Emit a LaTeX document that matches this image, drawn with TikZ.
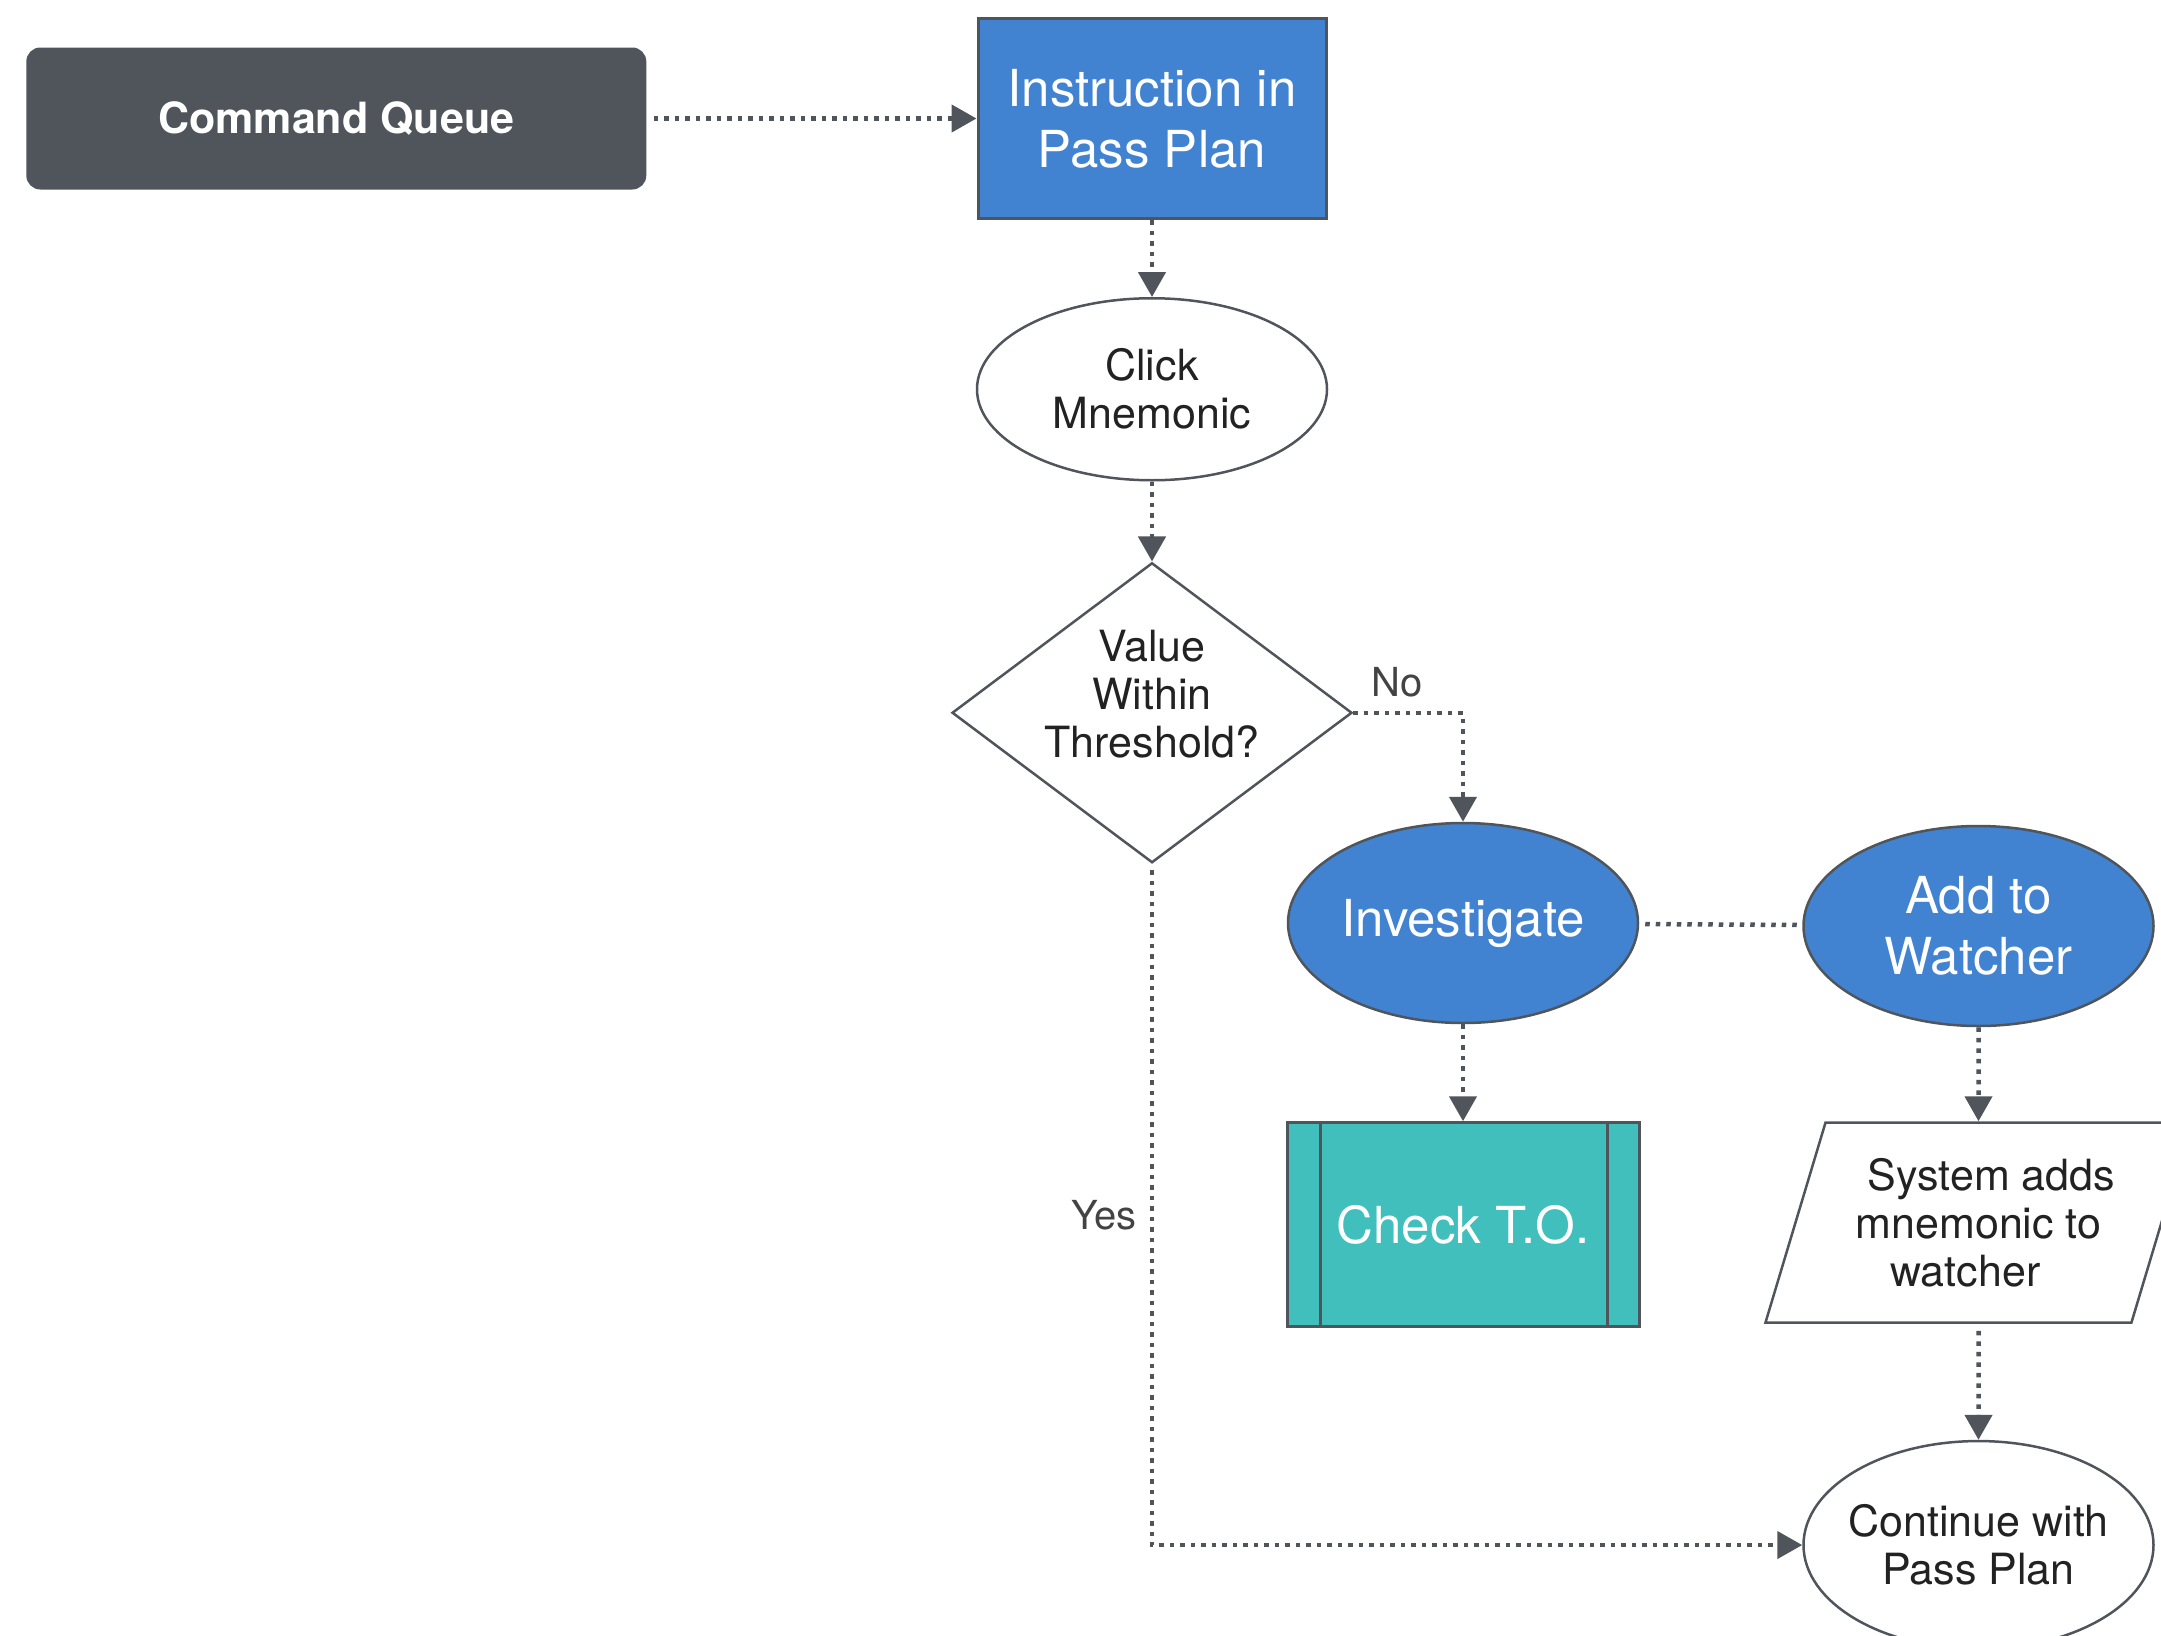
\documentclass[tikz,border=0pt]{standalone}
\usepackage{fontspec}
\setmainfont{TeX Gyre Heros}
\usetikzlibrary{positioning, shapes.geometric, arrows.meta}
\definecolor{slate}{RGB}{80,85,92}
\definecolor{boxblue}{RGB}{65,131,208}
\definecolor{boxteal}{RGB}{64,191,189}
\definecolor{inkgray}{RGB}{34,34,34}
\tikzset{block/.style={draw=slate, line width=3pt, minimum width=348pt, minimum height=200pt, align=center, inner sep=0pt},
bluefill/.style={fill=boxblue, text=white, font=\fontsize{51}{61}\selectfont},
term/.style={ellipse, draw=slate, line width=2.5pt, minimum width=350pt, minimum height=200pt, align=center, inner sep=0pt, text=inkgray, font=\fontsize{43}{48}\selectfont},
line/.style={draw=slate, line width=4.5pt, dash pattern=on 4.5pt off 6pt, -{Triangle[length=25pt,width=27pt]}},
lbl/.style={text=inkgray!85, font=\fontsize{40}{46}\selectfont}
}

\begin{document}
\begin{tikzpicture}[x=1pt, y=-1pt]
\useasboundingbox (0,0) rectangle (2161,1636);

\node[block, bluefill] (ins) at (1152,118.5) {Instruction in\\Pass Plan};
\node[fill=slate, rounded corners=14pt, minimum width=620pt, minimum height=142pt, text=white, font=\bfseries\fontsize{43}{50}\selectfont, left=330pt of ins] (cq) {Command Queue};
\node[term, below=77pt of ins, minimum height=182pt] (clk) {Click\\Mnemonic};
\node[diamond, shape aspect=1.3333, draw=slate, line width=2.5pt, minimum width=400pt, minimum height=300pt, inner sep=0pt, below=80pt of clk,
  label={[align=center, text=inkgray, font=\fontsize{43}{48}\selectfont, yshift=19pt]center:Value\\Within\\Threshold?}] (dia) {};

\node[term, bluefill] (inv) at (1463,923) {Investigate};
\node[term, bluefill, right=163pt of inv, yshift=-3pt] (atw) {Add to\\Watcher};

\node[block, fill=boxteal, text=white, font=\fontsize{51}{61}\selectfont, minimum width=352pt, minimum height=204pt, below=97pt of inv] (chk) {Check T.O.};
\draw[slate, line width=2.5pt] ([xshift=35pt]chk.north west) -- ([xshift=35pt]chk.south west);
\draw[slate, line width=2.5pt] ([xshift=-33pt]chk.north east) -- ([xshift=-33pt]chk.south east);

\node[trapezium, trapezium left angle=65, trapezium right angle=115, trapezium stretches body=true, draw=slate, line width=2.5pt, minimum width=426pt, minimum height=200pt, inner sep=0pt, align=center, text=inkgray, font=\fontsize{43}{48}\selectfont, below=94pt of atw] (par) {\hspace*{26pt}System adds\\mnemonic to\\watcher\hspace*{26pt}};
\node[term, inner xsep=-8pt, minimum height=208pt, below=116pt of par] (cnt) {Continue with\\Pass Plan};

\draw[line, shorten <=7pt] (cq) -- (ins);
\draw[line] (ins) -- (clk);
\draw[line] (clk) -- (dia);
\draw[line] (dia.east) -| node[above=10pt, pos=0.2, lbl] {No} (inv.north);
\draw[line, -, shorten <=6pt, shorten >=3pt] (inv) -- (atw);
\draw[line] (inv) -- (chk);
\draw[line] (atw) -- (par);
\draw[line, shorten <=7pt] (par) -- (cnt);
\draw[line, shorten <=6pt] (dia.south) |- node[left=10pt, pos=0.258, lbl] {Yes} (cnt.west);

\end{tikzpicture}
\end{document}
